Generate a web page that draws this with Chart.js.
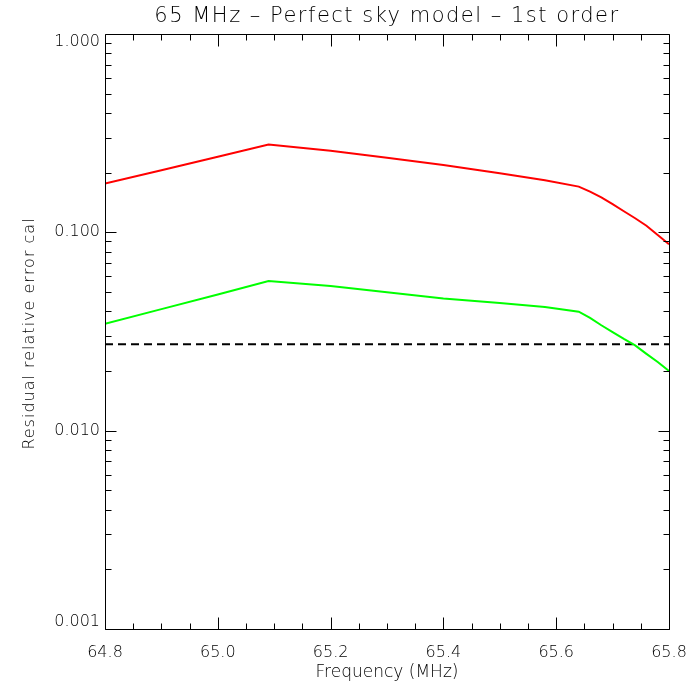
<!DOCTYPE html>
<html>
<head>
<meta charset="utf-8">
<script src="https://cdn.jsdelivr.net/npm/chart.js@4.4.1/dist/chart.umd.min.js"></script>
<style>
html,body{margin:0;padding:0;background:#fff;}
#wrap{width:700px;height:700px;}
</style>
</head>
<body>
<div id="wrap"><canvas id="c" width="700" height="700"></canvas></div>
<script>
// ---- data ----
const titleText = "65 MHz \u2013 Perfect sky model \u2013 1st order";
const xTitle = "Frequency (MHz)";
const yTitle = "Residual relative error cal";
const freq = [64.80, 64.90, 65.00, 65.09, 65.20, 65.30, 65.40, 65.50, 65.58, 65.64, 65.66, 65.68, 65.70, 65.72, 65.74, 65.76, 65.78, 65.80];
const redVals = [0.176, 0.2057, 0.2405, 0.277, 0.2576, 0.2374, 0.2188, 0.1986, 0.183, 0.170, 0.1603, 0.150, 0.1387, 0.1277, 0.1178, 0.1079, 0.0970, 0.0871];
const greenVals = [0.0346, 0.0410, 0.0486, 0.0568, 0.0536, 0.0499, 0.0464, 0.0440, 0.0420, 0.0398, 0.0370, 0.0340, 0.0314, 0.0290, 0.0269, 0.0244, 0.0222, 0.0200];
const thresholdX = [64.80, 65.80];
const thresholdVals = [0.0273, 0.0273];
const yDecades = [1, 0.1, 0.01, 0.001];
const yDecadeLabels = ["1.000", "0.100", "0.010", "0.001"];
const xMin = 64.8, xMax = 65.8, xMajorStep = 0.2, xMinorStep = 0.05;

const toPts = (xs, ys) => xs.map((x, i) => ({x: x, y: ys[i]}));
const FONT = "'DejaVu Sans', sans-serif";

const framePlugin = {
  id: 'frame',
  afterDraw(chart) {
    const ctx = chart.ctx;
    const a = chart.chartArea;
    const xs = chart.scales.x, ys = chart.scales.y;
    ctx.save();
    ctx.strokeStyle = '#000';
    ctx.lineWidth = 1;
    const L = Math.round(a.left) + 0.5, R = Math.round(a.right) + 0.5;
    const T = Math.round(a.top) + 0.5, B = Math.round(a.bottom) + 0.5;
    ctx.beginPath();
    ctx.rect(L, T, R - L, B - T);
    ctx.stroke();
    // x ticks
    ctx.beginPath();
    const n = Math.round((xMax - xMin) / xMinorStep);
    for (let i = 0; i <= n; i++) {
      const v = xMin + i * xMinorStep;
      const px = Math.round(xs.getPixelForValue(v)) + 0.5;
      const len = (i % Math.round(xMajorStep / xMinorStep) === 0) ? 12 : 6;
      ctx.moveTo(px, B); ctx.lineTo(px, B - len);
      ctx.moveTo(px, T); ctx.lineTo(px, T + len);
    }
    // y ticks
    for (let d = 0; d < 3; d++) {
      const base = yDecades[d + 1];
      for (let k = 1; k <= 9; k++) {
        const v = base * k;
        const py = Math.round(ys.getPixelForValue(v)) + 0.5;
        const len = k === 1 ? 11 : 6;
        ctx.moveTo(L, py); ctx.lineTo(L + len, py);
        ctx.moveTo(R, py); ctx.lineTo(R - len, py);
      }
    }
    ctx.stroke();
    // y labels
    ctx.fillStyle = '#000';
    ctx.font = "300 16px " + FONT;
    ctx.textAlign = 'right';
    ctx.textBaseline = 'middle';
    yDecades.forEach((v, i) => {
      let py = ys.getPixelForValue(v);
      py = Math.min(Math.max(py, a.top + 8), a.bottom - 7);
      ctx.fillText(yDecadeLabels[i], a.left - 5, py);
    });
    // y title
    ctx.save();
    ctx.translate(30, (a.top + a.bottom) / 2 + 2);
    ctx.rotate(-Math.PI / 2);
    ctx.textAlign = 'center';
    ctx.textBaseline = 'middle';
    ctx.font = "300 16px " + FONT;
    try { ctx.letterSpacing = '1px'; } catch (e) {}
    ctx.fillText(yTitle, 0, 0);
    ctx.restore();
    // main title
    ctx.textAlign = 'center';
    ctx.textBaseline = 'middle';
    ctx.font = "300 21px " + FONT;
    try { ctx.letterSpacing = '1.5px'; } catch (e) {}
    ctx.fillText(titleText, (a.left + a.right) / 2, 17);
    ctx.restore();
  }
};

new Chart(document.getElementById('c'), {
  type: 'line',
  data: {
    datasets: [
      {data: toPts(freq, redVals), borderColor: '#ff0000', borderWidth: 2, pointRadius: 0, tension: 0, fill: false},
      {data: toPts(freq, greenVals), borderColor: '#00ff00', borderWidth: 2, pointRadius: 0, tension: 0, fill: false},
      {data: toPts(thresholdX, thresholdVals), borderColor: '#000000', borderWidth: 2, borderDash: [8, 5], pointRadius: 0, tension: 0, fill: false}
    ]
  },
  options: {
    responsive: false,
    animation: false,
    devicePixelRatio: 1,
    layout: {padding: {top: 34, right: 31, left: 0, bottom: 0}},
    plugins: {legend: {display: false}, title: {display: false}, tooltip: {enabled: false}},
    scales: {
      x: {
        type: 'linear', min: xMin, max: xMax,
        grid: {display: false}, border: {display: false},
        ticks: {stepSize: xMajorStep, color: '#000', font: {family: FONT, size: 16, weight: 300}, padding: 6,
                callback: v => Number(v).toFixed(1), maxRotation: 0, autoSkip: false},
        title: {display: true, text: xTitle, color: '#000', font: {family: FONT, size: 17, weight: 300}, padding: {top: 0, bottom: 17}},
        afterFit: s => { s.height = 71; }
      },
      y: {
        type: 'logarithmic', min: 0.001, max: 1,
        grid: {display: false}, border: {display: false},
        ticks: {display: false},
        afterFit: s => { s.width = 105; }
      }
    }
  },
  plugins: [framePlugin]
});
</script>
</body>
</html>
